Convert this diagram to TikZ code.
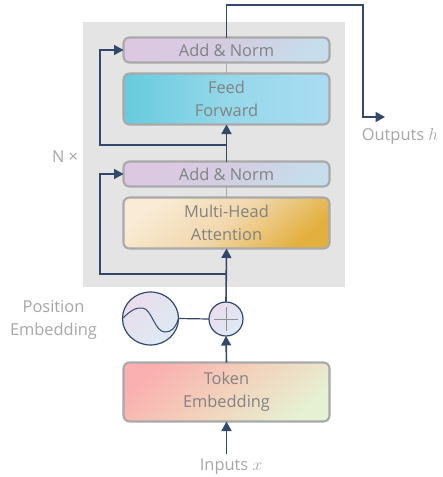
\documentclass[tikz,border=0pt]{standalone}
\usepackage{fontspec}
\setmainfont{Open Sans}
\usetikzlibrary{arrows.meta,calc,shapes.geometric}
\definecolor{panel}{HTML}{E4E4E4}
\definecolor{edge}{HTML}{A9A9A9}
\definecolor{wire}{HTML}{34496A}
\definecolor{boxtext}{HTML}{828282}
\definecolor{labeltext}{HTML}{A6A6A6}
\definecolor{addA}{HTML}{DDC8E2}
\definecolor{addM}{HTML}{D3CDE2}
\definecolor{addB}{HTML}{C6DDEB}
\definecolor{ffA}{HTML}{66CBDD}
\definecolor{ffM}{HTML}{94D8E9}
\definecolor{ffB}{HTML}{AADCF3}
\definecolor{mhA}{HTML}{F9EBD5}
\definecolor{mhM}{HTML}{F1D7AC}
\definecolor{mhB}{HTML}{E3B03F}
\definecolor{teA}{HTML}{FAB0B0}
\definecolor{teM}{HTML}{F2D2BC}
\definecolor{teB}{HTML}{E6F0D2}
\definecolor{cA}{HTML}{EADDEC}
\definecolor{cB}{HTML}{DDEAF6}
\tikzset{
  block/.style={draw=edge,line width=2.1pt,rounded corners=6pt,minimum width=206pt,outer sep=0pt,inner sep=0pt,text=boxtext,font=\fontsize{16.4}{23}\selectfont,align=center},
  addnorm/.style={block,minimum height=25pt,left color=addA,right color=addB,middle color=addM,shading angle=40},
  wireline/.style={draw=wire,line width=1.6pt},
  arrowline/.style={wireline,-{Triangle[length=9.5pt,width=10pt]}},
  thinlink/.style={draw=edge,line width=1pt},
  caption/.style={text=labeltext,font=\fontsize{16.4}{23}\selectfont,align=center,inner sep=0pt},
}
\begin{document}
\begin{tikzpicture}[x=1pt,y=-1pt]
\useasboundingbox (0,0) rectangle (443,477);
\fill[panel] (83,22) rectangle (345,287);
\node[addnorm] (an1) at (226.5,50) {Add \& Norm};
\node[block,minimum height=51pt,left color=ffA,right color=ffB,middle color=ffM,shading angle=90] (ff) at (226.5,99) {Feed\\Forward};
\node[addnorm] (an2) at (226.5,174) {Add \& Norm};
\node[block,minimum height=51pt,left color=mhA,right color=mhB,middle color=mhM,shading angle=40] (mh) at (226.5,223) {Multi-Head\\Attention};
\node[block,minimum height=59pt,left color=teA,right color=teB,middle color=teM,shading angle=40] (te) at (226.5,392) {Token\\Embedding};
\node[circle,draw=wire,line width=1.2pt,minimum size=34pt,inner sep=0pt,outer sep=0pt,left color=cA,right color=cB,shading angle=45] (plus) at (226,319) {};
\node[ellipse,draw=wire,line width=1.2pt,minimum width=56pt,minimum height=53pt,inner sep=0pt,outer sep=0pt,left color=cA,right color=cB,shading angle=45] (pe) at (150.5,318.5) {};
\draw[draw=boxtext!110!black,line width=1pt] (plus.center) +(-12,0) -- +(12,0) (plus.center) +(0,-12) -- +(0,12);
\draw[wire,line width=1pt] (pe.west) .. controls (130,311) and (136,307) .. (143,308) .. controls (152,310) and (155,332) .. (165,332) .. controls (171,332) and (175,329) .. (pe.east);
\coordinate (inp) at (226.5,454);
\coordinate (split1) at (226.5,274);
\coordinate (split2) at (226.5,145);
\coordinate (leftrail) at (100,0);
\coordinate (topturn) at (363,5);
\coordinate (outend) at (385,117);
\draw[arrowline] (inp) -- (te.south);
\draw[arrowline] (te.north) -- (plus.south);
\draw[wireline,line width=1.2pt] (pe.east) -- (plus.west);
\draw[arrowline] (plus.north) -- (mh.south);
\draw[arrowline] (split1) -| (leftrail |- an2.west) -- (an2.west);
\draw[thinlink] (mh.north) -- (an2.south);
\draw[arrowline] (an2.north) -- (ff.south);
\draw[arrowline] (split2) -| (leftrail |- an1.west) -- (an1.west);
\draw[thinlink] (ff.north) -- (an1.south);
\draw[arrowline] (an1.north) |- (topturn) |- (outend);
\node[caption] (outl) at (400,136) {Outputs $h$};
\node[caption] (inl) at (231,467) {Inputs $x$};
\node[caption] (pel) at (53.5,320) {Position\\Embedding};
\node[caption] (nl) at (65,157) {N ×};
\end{tikzpicture}
\end{document}
